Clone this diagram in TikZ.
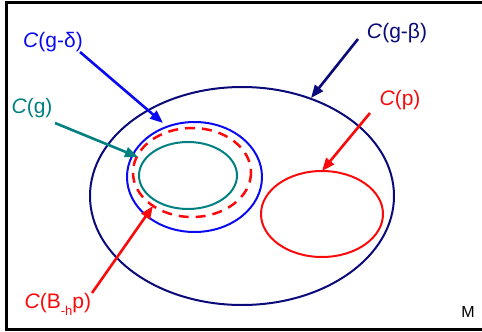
\documentclass[tikz,border=0pt]{standalone}
\usepackage{fontspec}
\setmainfont{Liberation Sans}
\usetikzlibrary{arrows.meta}
\definecolor{navy}{RGB}{10,10,120}
\definecolor{tealset}{RGB}{0,128,128}
\definecolor{blueset}{RGB}{10,10,240}
\definecolor{redset}{RGB}{250,10,10}

\begin{document}
\begin{tikzpicture}[x=1pt,y=-1pt,
  lbl/.style={font=\fontsize{21}{21}\selectfont},
  arr/.style={line width=2.6pt,-{Triangle[length=13pt,width=10pt]}},
  set/.style={line width=2pt}]
\useasboundingbox (0,0) rectangle (482,332);
\draw[line width=2.5pt] (486,2.5) -- (6.5,2.5) -- (6.5,329.5) -- (486,329.5);
% the sets
\draw[set,navy] (242,196) ellipse [x radius=152, y radius=109];
\draw[set,blueset] (194.5,177) ellipse [x radius=67.5, y radius=55];
\draw[set,redset,line width=2.5pt,dash pattern=on 10pt off 7pt] (192,172.5) ellipse [x radius=59, y radius=44.5];
\draw[set,tealset] (188,175.5) ellipse [x radius=49, y radius=33.5];
\draw[set,redset] (322,214) ellipse [x radius=61, y radius=43];
% labels
\node[lbl,blueset] (gdelta) at (53,42) {\textit{C}(g-δ)};
\node[lbl,tealset] (g) at (32,108) {\textit{C}(g)};
\node[lbl,navy] (gbeta) at (397,33) {\textit{C}(g-β)};
\node[lbl,redset] (p) at (400,100) {\textit{C}(p)};
\node[lbl,redset,anchor=base west] (bhp) at (21,308) {\textit{C}(B\raisebox{-7pt}{\fontsize{13}{13}\selectfont -h}p)};
\node[font=\fontsize{16}{16}\selectfont] (M) at (468,312) {M};
% arrow ends
\coordinate (gdeltaT) at (80,52); \coordinate (gdeltaH) at (163,123);
\coordinate (gT) at (55,123); \coordinate (gH) at (138,157);
\coordinate (gbetaT) at (358,39); \coordinate (gbetaH) at (311,98);
\coordinate (pT) at (370,113); \coordinate (pH) at (322,171);
\coordinate (bhpT) at (92,293); \coordinate (bhpH) at (153,206);
\draw[arr,blueset] (gdeltaT) -- (gdeltaH);
\draw[arr,tealset] (gT) -- (gH);
\draw[arr,navy] (gbetaT) -- (gbetaH);
\draw[arr,redset] (pT) -- (pH);
\draw[arr,redset] (bhpT) -- (bhpH);
\end{tikzpicture}
\end{document}
